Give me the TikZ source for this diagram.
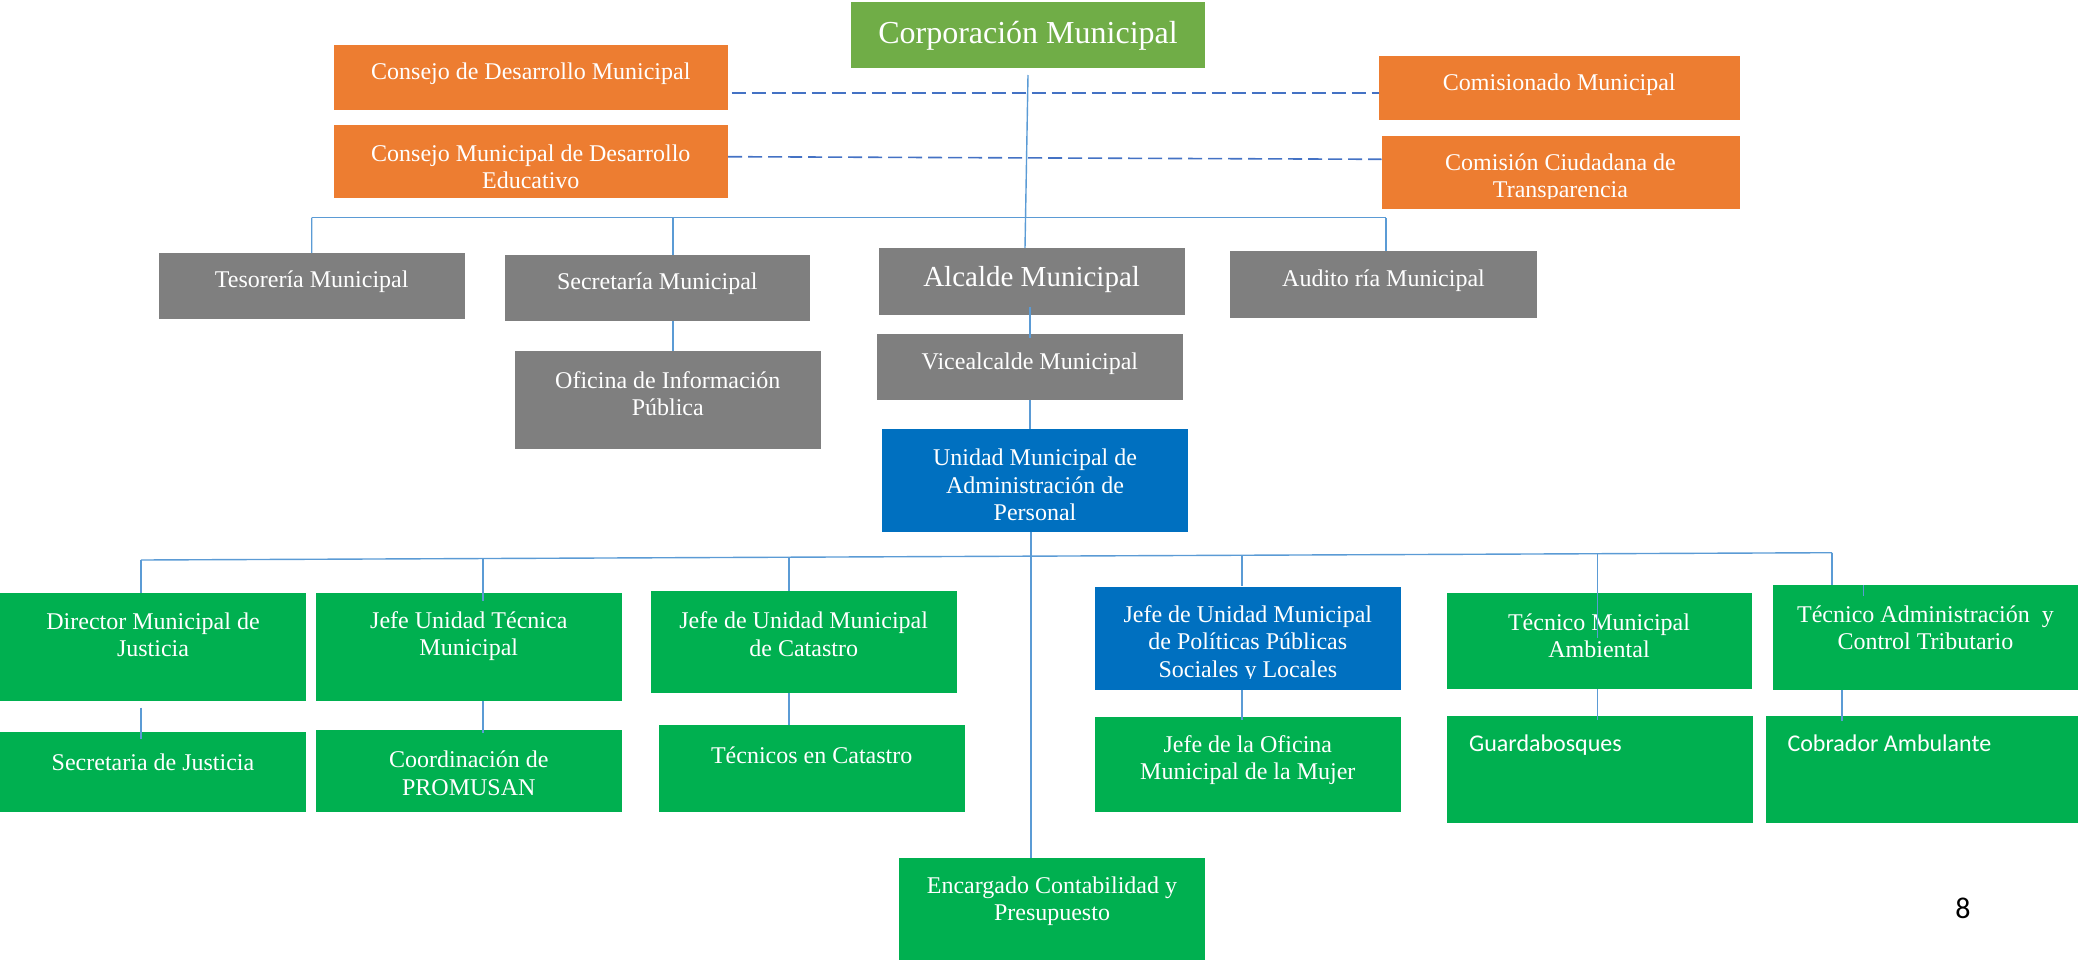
\documentclass[tikz,border=0pt]{standalone}
\usepackage{fontspec}
\setmainfont{Liberation Serif}
\newfontfamily\calib{Carlito}
\usetikzlibrary{fit}
\definecolor{corange}{HTML}{ED7D31}
\definecolor{cgreenA}{HTML}{70AD47}
\definecolor{cgray}{HTML}{7F7F7F}
\definecolor{cblue}{HTML}{0070C0}
\definecolor{cgreen}{HTML}{00B050}
\definecolor{cline}{HTML}{5B9BD5}
\definecolor{cdash}{HTML}{4472C4}
\begin{document}
\begin{tikzpicture}[x=1pt,y=-1pt,
  bx/.style={inner sep=0pt,outer sep=0pt,draw=none},
  obox/.style={bx,fill=corange},
  gabox/.style={bx,fill=cgreenA},
  graybox/.style={bx,fill=cgray},
  bbox/.style={bx,fill=cblue},
  gbox/.style={bx,fill=cgreen},
  txt/.style={text=white,font=\fontsize{24}{27.5}\selectfont,align=center,inner sep=0pt},
  ctxt/.style={text=white,font=\calib\fontsize{24}{28}\selectfont,inner sep=0pt,anchor=base west},
  ln/.style={draw=cline,line width=1.4pt},
  dln/.style={draw=cdash,line width=1.6pt,dash pattern=on 14pt off 6pt}]
\useasboundingbox (0,0) rectangle (2081,961);
% boxes
\node[gabox,fit={(851,2)(1205,68)}] (corp) {};
\node[obox,fit={(333.6,45)(728,110)}] (cdm) {};
\node[obox,fit={(333.6,125)(728,198)}] (cmde) {};
\node[obox,fit={(1379,56)(1739.6,120)}] (com) {};
\node[obox,fit={(1381.5,136)(1739.6,209)}] (cct) {};
\node[graybox,fit={(158.5,253)(465,319)}] (tes) {};
\node[graybox,fit={(504.6,255)(810,321)}] (sec) {};
\node[graybox,fit={(878.6,248)(1184.6,315)}] (alc) {};
\node[graybox,fit={(1230,251)(1537,318)}] (aud) {};
\node[graybox,fit={(514.6,351)(821,449)}] (ofi) {};
\node[graybox,fit={(876.7,334)(1183,400.3)}] (vice) {};
\node[bbox,fit={(882,429.3)(1188,531.7)}] (uma) {};
\node[gbox,fit={(0,593)(306,700.7)}] (dir) {};
\node[gbox,fit={(315.6,593.3)(622,700.7)}] (jut) {};
\node[gbox,fit={(650.5,591)(957,693.3)}] (cat) {};
\node[bbox,fit={(1095,587.3)(1400.7,690)}] (jpp) {};
\node[gbox,fit={(1446.5,593)(1751.5,689.3)}] (tma) {};
\node[gbox,fit={(1772.8,585.3)(2078,690)}] (tac) {};
\node[gbox,fit={(0,732.3)(306,812.3)}] (sj) {};
\node[gbox,fit={(315.6,730.3)(622,812.3)}] (prom) {};
\node[gbox,fit={(658.5,725.3)(965,812.3)}] (tec) {};
\node[gbox,fit={(1095,717.3)(1400.7,812.3)}] (jom) {};
\node[gbox,fit={(1446.5,715.7)(1753,822.7)}] (gua) {};
\node[gbox,fit={(1765.5,715.7)(2078,822.7)}] (cob) {};
\node[gbox,fit={(899,858)(1205,960)}] (enc) {};
% texts
\node[txt,font=\fontsize{32}{36}\selectfont] (corpT) at (1028,35.5) {Corporación Municipal};
\node[txt] (cdmT) at (530.8,74) {Consejo de Desarrollo Municipal};
\node[txt] (cmdeT) at (530.8,167) {Consejo Municipal de Desarrollo\\Educativo};
\node[txt] (comT) at (1559.3,85) {Comisionado Municipal};
\begin{scope}
\clip (1381.5,136) rectangle (1739.6,198.5);
\node[txt] (cctT) at (1560.5,178) {Comisión Ciudadana de\\Transparencia};
\end{scope}
\node[txt] (tesT) at (311.7,282) {Tesorería Municipal};
\node[txt] (secT) at (657.3,283.5) {Secretaría Municipal};
\node[txt,font=\fontsize{29}{33}\selectfont] (alcT) at (1031.6,280) {Alcalde Municipal};
\node[txt] (audT) at (1383.5,280.5) {Audito ría Municipal};
\node[txt] (ofiT) at (667.8,393.5) {Oficina de Información\\Pública};
\node[txt] (viceT) at (1029.9,363.5) {Vicealcalde Municipal};
\node[txt] (umaT) at (1035,485) {Unidad Municipal de\\Administración de\\Personal};
\node[txt] (dirT) at (153,635) {Director Municipal de\\Justicia};
\node[txt] (jutT) at (468.8,636) {Jefe Unidad Técnica\\Municipal};
\node[txt] (catT) at (803.7,634) {Jefe de Unidad Municipal\\de Catastro};
\begin{scope}
\clip (1095,587.3) rectangle (1400.7,678);
\node[txt] (jppT) at (1247.8,644) {Jefe de Unidad Municipal\\de Políticas Públicas\\Sociales y Locales};
\end{scope}
\node[txt] (tmaT) at (1599,636) {Técnico Municipal\\Ambiental};
\node[txt] (tacT) at (1925.4,628) {Técnico Administración\ \ y\\Control Tributario};
\node[txt] (sjT) at (153,762) {Secretaria de Justicia};
\node[txt] (promT) at (468.8,773.5) {Coordinación de\\PROMUSAN};
\node[txt] (tecT) at (811.7,755) {Técnicos en Catastro};
\node[txt] (jomT) at (1247.8,760) {Jefe de la Oficina\\Municipal de la Mujer};
\node[ctxt] (guaT) at (1469,751) {Guardabosques};
\node[ctxt] (cobT) at (1787.3,751) {Cobrador Ambulante};
\node[txt] (encT) at (1052,901) {Encargado Contabilidad y\\Presupuesto};
\node[font=\calib\fontsize{30}{34}\selectfont,inner sep=0pt] (pg) at (1963,908) {8};
% connectors
\coordinate (b1L) at (311.7,217.7);
\coordinate (b1R) at (1386,217.7);
\coordinate (xsec) at (673,0);
\coordinate (xmid) at (1031,0);
\draw[ln] (b1L) -- (b1R);
\draw[ln] (b1L) -- (tes.north);
\draw[ln] (b1L -| xsec) -- (sec.north -| xsec);
\draw[ln] (b1R) -- (aud.north -| b1R);
\draw[ln] (sec.south -| xsec) -- (ofi.north -| xsec);
\draw[ln] ([yshift=-7pt]corp.south) -- ([xshift=-3pt]alc.north -| corp.south);
\draw[ln] ([yshift=8pt]alc.south -| vice.south) -- ([yshift=-4pt]vice.north);
\draw[ln] (vice.south) -- (vice.south |- uma.north);
\draw[ln] (uma.south -| xmid) -- (enc.north -| xmid);
\coordinate (b2L) at (141,560);
\coordinate (b2R) at (1832,552.7);
\coordinate (d2) at (482.8,558.5);
\coordinate (d3) at (789,557.2);
\coordinate (d4) at (1242,555.2);
\coordinate (d5) at (1597.7,553.7);
\coordinate (d6) at (1863.6,0);
\coordinate (d7) at (1842,0);
\draw[ln] (b2L) -- (b2R);
\draw[ln] (b2L) -- (dir.north -| b2L);
\draw[ln] (d2) -- ([yshift=-8pt]jut.north -| d2);
\draw[ln] (d3) -- (cat.north -| d3);
\draw[ln] (d4) -- ([yshift=1.5pt]jpp.north -| d4);
\draw[ln] (d5) -- ([yshift=-45pt]tma.north -| d5);
\draw[ln] (b2R) -- (tac.north -| b2R);
\draw[ln] (tac.north -| d6) -- ([yshift=-11pt]tac.north -| d6);
\draw[ln] ([yshift=-7pt]dir.south -| b2L) -- ([yshift=-7pt]sj.north -| b2L);
\draw[ln] (jut.south -| d2) -- ([yshift=-3pt]prom.north -| d2);
\draw[ln] (cat.south -| d3) -- (tec.north -| d3);
\draw[ln] (jpp.south -| d4) -- ([yshift=-3pt]jom.north -| d4);
\draw[ln] (tma.south -| d5) -- ([yshift=-4pt]gua.north -| d5);
\draw[ln] (tac.south -| d7) -- ([yshift=-5pt]cob.north -| d7);
\coordinate (dA) at (731.5,92.7);
\coordinate (dB1) at (728,156.7);
\coordinate (dB2) at (1381.5,159.3);
\draw[dln] (dA) -- (dA -| com.west);
\draw[dln] (dB1) -- (dB2);
\end{tikzpicture}
\end{document}
